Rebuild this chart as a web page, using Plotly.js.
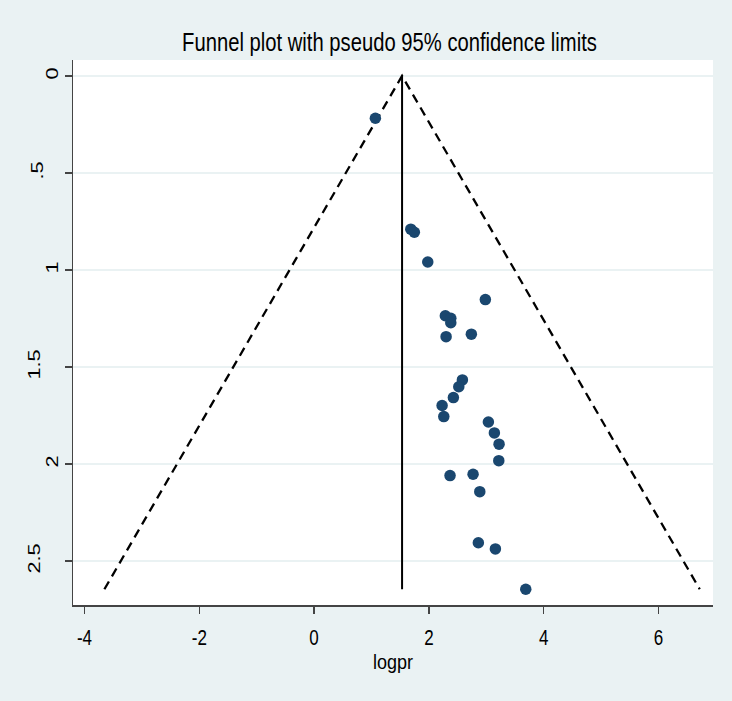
<!DOCTYPE html>
<html>
<head>
<meta charset="utf-8">
<script src="https://cdn.plot.ly/plotly-3.0.1.min.js"></script>
<style>html,body{margin:0;padding:0;background:#EAF2F3;}#chart{width:732px;height:701px;}</style>
</head>
<body>
<div id="chart"></div>
<script>
// Study estimates (log prevalence ratio) and their standard errors
const logpr = [1.068, 1.685, 1.747, 1.981, 2.984, 2.287, 2.382, 2.382, 2.740, 2.300,
               2.584, 2.521, 2.427, 2.230, 2.260, 3.037, 3.141, 3.223, 3.218, 2.369,
               2.770, 2.887, 2.862, 3.159, 3.688];
const seLogpr = [0.218, 0.790, 0.806, 0.959, 1.153, 1.236, 1.249, 1.272, 1.331, 1.344,
                 1.567, 1.602, 1.658, 1.699, 1.756, 1.784, 1.840, 1.898, 1.983, 2.060,
                 2.053, 2.143, 2.406, 2.438, 2.646];
const pooledEstimate = 1.533;
const zCrit = 1.96;
const yTickVals = [0, 0.5, 1, 1.5, 2, 2.5];
const yTickText = ["0", ".5", "1", "1.5", "2", "2.5"];
const xTickVals = [-4, -2, 0, 2, 4, 6];
const xTickText = ["-4", "-2", "0", "2", "4", "6"];

const maxSE = Math.max(...seLogpr);
const seLine = [0, maxSE];

const fontFam = '"Liberation Sans", Arial, Helvetica, sans-serif';

const traces = [
  { x: [pooledEstimate - zCrit * maxSE, pooledEstimate, pooledEstimate + zCrit * maxSE],
    y: [maxSE, 0, maxSE], mode: 'lines', type: 'scatter',
    line: { color: '#000000', width: 2.3, dash: '9px,6px' }, hoverinfo: 'skip', showlegend: false },
  { x: [pooledEstimate, pooledEstimate], y: seLine, mode: 'lines', type: 'scatter',
    line: { color: '#000000', width: 2 }, hoverinfo: 'skip', showlegend: false },
  { x: logpr, y: seLogpr, mode: 'markers', type: 'scatter',
    marker: { color: '#1A476F', size: 11.5, line: { width: 0 } }, showlegend: false }
];

const layout = {
  width: 732, height: 701,
  paper_bgcolor: '#EAF2F3',
  plot_bgcolor: '#FFFFFF',
  margin: { l: 73, r: 19, t: 60, b: 96 },
  font: { family: fontFam, color: '#000000', size: 18 },
  title: { text: 'Funnel plot with pseudo 95% confidence limits',
           font: { family: fontFam, size: 26, color: '#000000' },
           x: 0.532, xanchor: 'center', y: 0.927, yanchor: 'bottom' },
  xaxis: {
    range: [-4.2, 6.95], tickvals: xTickVals, ticktext: xTickText,
    showgrid: false, zeroline: false, showline: true, linecolor: '#444444', linewidth: 1.5,
    ticks: 'outside', ticklen: 7, tickwidth: 1.5, tickcolor: '#444444',
    tickfont: { family: fontFam, size: 17 },
    title: { text: 'logpr', font: { family: fontFam, size: 18 }, standoff: 10 }
  },
  yaxis: {
    range: [2.727, -0.082], tickvals: yTickVals, ticktext: yTickText, tickangle: -90,
    showgrid: true, gridcolor: '#EAF2F3', gridwidth: 2,
    zeroline: false, showline: true, linecolor: '#444444', linewidth: 1.5,
    ticks: 'outside', ticklen: 7, tickwidth: 1.5, tickcolor: '#444444',
    tickfont: { family: fontFam, size: 17 }, ticklabelstandoff: 6
  }
};

// The reference text is drawn tall and narrow (vertically stretched); mimic that.
const textStretch = 1.28;

Plotly.newPlot('chart', traces, layout, { displayModeBar: false, staticPlot: true }).then(function () {
  // Title: compress horizontally to the reference width.
  const t = document.querySelector('.gtitle');
  if (t) {
    const bb = t.getBBox();
    const cx = bb.x + bb.width / 2;
    const sx = 415 / bb.width;
    t.setAttribute('transform', 'translate(389.5,0) scale(' + sx + ',1) translate(' + (-cx) + ',0)');
  }
  // x tick labels: stretch vertically from a common top line.
  document.querySelectorAll('g.xtick').forEach(function (g) {
    const bb = g.getBBox();
    const top = bb.y, targetTop = 626;
    g.setAttribute('transform', 'translate(0,' + targetTop + ') scale(1,' + textStretch + ') translate(0,' + (-top) + ')');
  });
  // y tick labels (rotated): stretch along the text, and align like the reference
  // (single-character labels sit closer to the axis than longer ones).
  document.querySelectorAll('g.ytick').forEach(function (g) {
    const bb = g.getBBox();
    const cy = bb.y + bb.height / 2;
    const label = g.textContent.trim();
    const targetRight = label.length === 1 ? 61.5 : (label.length === 2 ? 46.5 : 44);
    const dx = targetRight - (bb.x + bb.width);
    g.setAttribute('transform', 'translate(' + dx + ',' + cy + ') scale(1,' + textStretch + ') translate(0,' + (-cy) + ')');
  });
  // x axis title
  const xt = document.querySelector('.g-xtitle');
  if (xt) {
    const bb = xt.getBBox();
    const top = bb.y, targetTop = 651;
    xt.setAttribute('transform', 'translate(0,' + targetTop + ') scale(1,1.15) translate(0,' + (-top) + ')');
  }
});
</script>
</body>
</html>
